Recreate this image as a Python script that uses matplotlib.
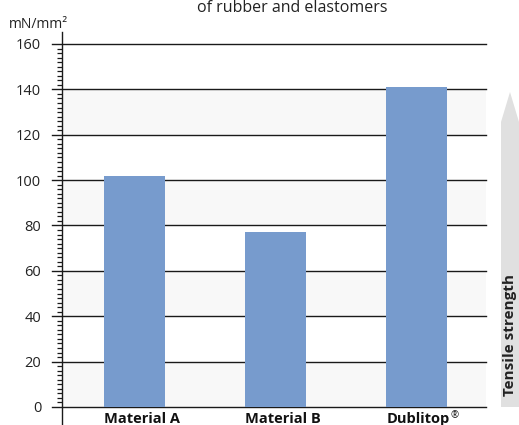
import matplotlib.pyplot as plt
import matplotlib.patches as mpatches
import numpy as np

materials = ['Material A', 'Material B', 'Dublitop']
marks = ['', '', '\u00ae']
strength = [102, 77, 141]
major_ticks = [0, 20, 40, 60, 80, 100, 120, 140, 160]

plt.rcParams['font.family'] = ['Open Sans', 'DejaVu Sans']

W, H = 519, 425
fig = plt.figure(figsize=(W / 100, H / 100), dpi=100)
ax = fig.add_axes([62 / W, 0, (486 - 62) / W, (425 - 32) / H])

ppu = (407 - 44) / 160
ax.set_ylim(-18 / ppu, 160 + 12 / ppu)
ax.set_xlim(-0.514, 2.493)

# shaded bands
for lo in major_ticks[0:-1:2]:
    ax.axhspan(lo, lo + 20, color='#f8f8f8', zorder=0, lw=0)
# gridlines (extend left across the outer tick)
for v in major_ticks:
    ax.axhline(v, xmin=-10 / 424, xmax=1, color='#1a1a1a', lw=1.0, zorder=1, clip_on=False)

x = np.arange(len(materials))
bar_w = 0.43
ax.bar(x, strength, width=bar_w, color='#779bcd', zorder=2)

for s in ['top', 'right', 'bottom']:
    ax.spines[s].set_visible(False)
ax.spines['left'].set_linewidth(1.0)
ax.spines['left'].set_color('#1a1a1a')

ax.set_yticks(major_ticks)
ax.set_yticklabels([str(v) for v in major_ticks], fontsize=10.5, color='#222222')
ax.set_yticks(np.arange(0, 161, 2), minor=True)
ax.tick_params(axis='y', which='major', length=0, pad=15)
ax.tick_params(axis='y', which='minor', direction='out', length=3.6, width=0.9, color='#1a1a1a')
ax.set_xticks([])

# category labels, left-aligned with the bars
for xi, name, mark in zip(x, materials, marks):
    t = ax.text(xi - bar_w / 2, -5 / ppu, name, ha='left', va='top', fontsize=10.5,
                fontweight='bold', color='#111111')
    if mark:
        ax.annotate(mark, xy=(1, 1), xycoords=t, xytext=(0.5, 1.5), textcoords='offset points',
                    ha='left', va='top', fontsize=7, color='#111111')

fig.text(9 / W, 1 - 25 / H, 'mN/mm\u00b2', ha='left', va='center', fontsize=10, color='#222222')
fig.text(292 / W, 1 - 12 / H, 'of rubber and elastomers', ha='center', va='baseline',
         fontsize=11.5, color='#222222')

# tensile strength arrow
pts = [[px / W, 1 - py / H] for px, py in [[501, 407], [519, 407], [519, 122], [510, 92], [501, 122]]]
arrow = mpatches.Polygon(pts, closed=True, facecolor='#e0e0e0', lw=0, transform=fig.transFigure)
fig.patches.append(arrow)
fig.text(510 / W, 1 - 396 / H, 'Tensile strength', rotation=90, ha='center', va='bottom',
         fontsize=11, fontweight='bold', color='#222222')

fig.savefig('out.png', dpi=100)
